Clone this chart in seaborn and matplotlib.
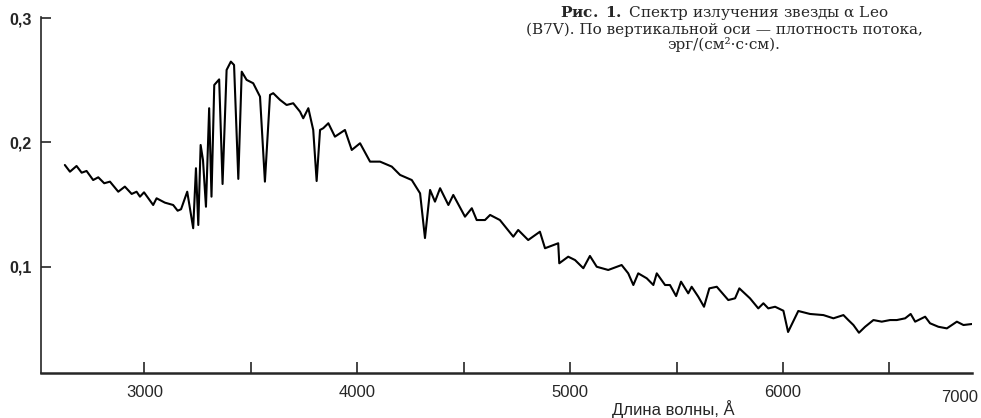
import numpy as np
import pandas as pd
import matplotlib
matplotlib.use('Agg')
import matplotlib.pyplot as plt
import seaborn as sns

# wavelength (Angstrom) and flux
wavelength = [2626, 2650, 2681, 2705, 2728, 2759, 2783, 2811, 2838, 2877,
              2908, 2940, 2963, 2979, 2998, 3041, 3057, 3096, 3135, 3156,
              3172, 3201, 3229, 3242, 3253, 3264, 3275, 3289, 3304, 3315,
              3328, 3351, 3367, 3386, 3406, 3421, 3441, 3457, 3480, 3511,
              3543, 3566, 3590, 3605, 3637, 3668, 3699, 3731, 3746, 3770,
              3793, 3809, 3825, 3840, 3864, 3895, 3942, 3974, 4013, 4060,
              4107, 4162, 4201, 4256, 4295, 4318, 4342, 4365, 4389, 4428,
              4451, 4506, 4538, 4561, 4600, 4624, 4670, 4733, 4756, 4803,
              4858, 4882, 4944, 4949, 4991, 5023, 5062, 5093, 5125, 5179,
              5242, 5273, 5297, 5320, 5360, 5391, 5407, 5446, 5469, 5498,
              5521, 5555, 5571, 5602, 5629, 5654, 5689, 5743, 5775, 5795,
              5845, 5884, 5908, 5931, 5963, 6002, 6024, 6072, 6127, 6190,
              6237, 6284, 6307, 6331, 6357, 6386, 6425, 6464, 6503, 6535,
              6574, 6600, 6621, 6668, 6691, 6730, 6770, 6817, 6848, 6887]
flux = [0.1817, 0.1763, 0.1809, 0.1755, 0.1769, 0.1696, 0.1718, 0.1670, 0.1683, 0.1602,
        0.1643, 0.1584, 0.1602, 0.1562, 0.1597, 0.1495, 0.1549, 0.1514, 0.1495, 0.1449,
        0.1461, 0.1602, 0.1308, 0.1791, 0.1334, 0.1978, 0.1857, 0.1481, 0.2274, 0.1562,
        0.2461, 0.2506, 0.1664, 0.2582, 0.2649, 0.2622, 0.1705, 0.2568, 0.2502, 0.2475,
        0.2367, 0.1683, 0.2381, 0.2395, 0.2341, 0.2300, 0.2314, 0.2246, 0.2193, 0.2274,
        0.2099, 0.1688, 0.2099, 0.2113, 0.2153, 0.2045, 0.2099, 0.1938, 0.1992, 0.1844,
        0.1844, 0.1804, 0.1737, 0.1696, 0.1589, 0.1229, 0.1616, 0.1522, 0.1630, 0.1495,
        0.1576, 0.1401, 0.1469, 0.1374, 0.1374, 0.1415, 0.1374, 0.1240, 0.1294, 0.1213,
        0.1280, 0.1147, 0.1187, 0.1026, 0.1079, 0.1052, 0.0986, 0.1085, 0.0998, 0.0972,
        0.1012, 0.0945, 0.0851, 0.0945, 0.0905, 0.0851, 0.0945, 0.0851, 0.0851, 0.0762,
        0.0878, 0.0784, 0.0837, 0.0757, 0.0676, 0.0824, 0.0837, 0.0730, 0.0744, 0.0824,
        0.0744, 0.0663, 0.0704, 0.0663, 0.0676, 0.0644, 0.0473, 0.0642, 0.0618, 0.0609,
        0.0583, 0.0609, 0.0569, 0.0529, 0.0467, 0.0515, 0.0569, 0.0556, 0.0569, 0.0569,
        0.0583, 0.0618, 0.0556, 0.0596, 0.0543, 0.0515, 0.0502, 0.0556, 0.0529, 0.0537]

x_major = [3000, 4000, 5000, 6000]
x_minor = [3500, 4500, 5500, 6500]
x_labels = ['3000', '4000', '5000', '6000']
y_ticks = [0.1, 0.2, 0.3]
y_labels = ['0,1', '0,2', '0,3']

title = ('$\\mathbf{Рис.\\ 1.}$ Спектр излучения звезды α Leo\n'
         '(B7V). По вертикальной оси — плотность потока,\n'
         'эрг/(см²·с·см).')

sns.set_style('ticks')
plt.rcParams['font.family'] = ['Liberation Sans', 'DejaVu Sans']
plt.rcParams['mathtext.fontset'] = 'dejavuserif'

df = pd.DataFrame({'wl': wavelength, 'flux': flux})

fig = plt.figure(figsize=(9.81, 4.18), dpi=100)
ax = fig.add_axes([0.0418, 0.1077, 0.949, 0.851])
sns.lineplot(data=df, x='wl', y='flux', ax=ax, color='black', lw=1.5, sort=False)

ax.set_xlim(2514, 6888)
ax.set_ylim(0.0143, 0.3006)
sns.despine(ax=ax)
ax.spines['bottom'].set_linewidth(1.8)
ax.spines['left'].set_linewidth(1.2)

ax.set_xticks(x_major)
ax.set_xticklabels(x_labels, fontsize=12)
ax.set_xticks(x_minor, minor=True)
ax.tick_params(axis='x', which='both', direction='in', length=8, width=1.2, pad=9)
ax.set_yticks(y_ticks)
ax.set_yticklabels(y_labels, fontsize=11.5, fontweight='bold')
ax.tick_params(axis='y', direction='in', length=7, width=1.2, pad=7)

# last tick label sits at the cut edge of the scan
ax.text(0.987, -0.048, '7000', transform=ax.transAxes, ha='center', va='top', fontsize=12)

ax.set_xlabel('Длина волны, Å', fontsize=12)
ax.xaxis.set_label_coords(0.679, -0.075)
ax.xaxis.label.set_va('top')
ax.set_ylabel('')

fig.text(724 / 981, 1 - 28 / 418, title, ha='center', va='center', multialignment='center',
         fontsize=11, linespacing=1.0, family=['DejaVu Serif'])

plt.savefig('out.png', dpi=100)
plt.close()
